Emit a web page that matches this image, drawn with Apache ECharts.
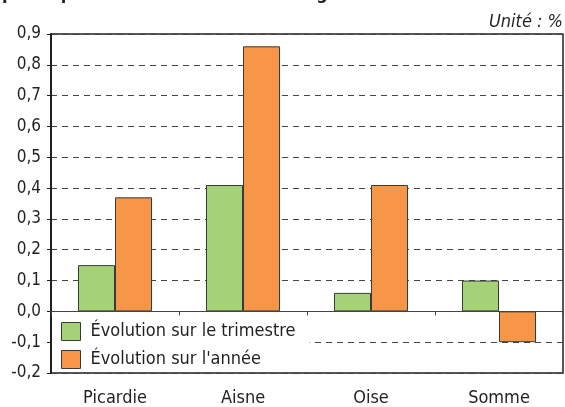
<!DOCTYPE html>
<html>
<head>
<meta charset="utf-8">
<script src="https://cdn.jsdelivr.net/npm/echarts@6/dist/echarts.min.js"></script>
<style>
html,body{margin:0;padding:0;background:#fff;}
#c{width:565px;height:407px;}
</style>
</head>
<body>
<div id="c"></div>
<script>
var categories = ['Picardie', 'Aisne', 'Oise', 'Somme'];
var trimestre = [0.15, 0.41, 0.06, 0.10];
var annee = [0.37, 0.86, 0.41, -0.10];
var seriesNames = ['Évolution sur le trimestre', "Évolution sur l'année"];
var headerText = 'par département en données corrigées des variations saisonnières';
var unitText = 'Unité : %';

var FONT = '"Liberation Sans Narrow", "DejaVu Sans Condensed", "Liberation Sans", sans-serif';
var INK = '#231f20';

var chart = echarts.init(document.getElementById('c'), null, {renderer: 'canvas'});
chart.setOption({
  animation: false,
  textStyle: {fontFamily: FONT, color: INK},
  grid: {left: 51, right: 2, top: 34, bottom: 34, show: true, borderColor: INK, borderWidth: 1.5, backgroundColor: 'transparent'},
  graphic: [
    {type: 'text', left: 2, top: -15, style: {text: headerText, fontFamily: FONT, fontSize: 18, fontWeight: 'bold', fill: INK}},
    {type: 'text', right: 2, top: 13, style: {text: unitText, fontFamily: FONT, fontSize: 18, fontStyle: 'italic', fill: INK}}
  ],
  legend: {
    orient: 'vertical',
    left: 52, top: 313,
    padding: [9, 14, 3, 9],
    itemWidth: 19, itemHeight: 18, itemGap: 9,
    icon: 'rect',
    backgroundColor: '#fff',
    data: seriesNames,
    itemStyle: {borderColor: '#3a3a3a', borderWidth: 1},
    textStyle: {fontFamily: FONT, fontSize: 18, lineHeight: 18, color: INK, padding: [0, 0, 0, 5]}
  },
  xAxis: [
    {
      type: 'category', data: categories, position: 'bottom',
      axisLine: {show: false, onZero: false},
      axisTick: {show: false},
      axisLabel: {fontFamily: FONT, fontSize: 18, color: INK, margin: 16}
    },
    {
      type: 'category', data: categories, position: 'top', z: 5,
      axisLine: {show: true, onZero: true, lineStyle: {color: '#444', width: 1.2}},
      axisTick: {show: true, inside: true, length: 4, lineStyle: {color: '#444'}},
      axisLabel: {show: false}
    }
  ],
  yAxis: {
    type: 'value', min: -0.2, max: 0.9, interval: 0.1,
    axisLine: {show: true, lineStyle: {color: INK, width: 2}},
    axisTick: {show: true, length: 4, lineStyle: {color: INK}},
    axisLabel: {fontFamily: FONT, fontSize: 17, color: INK, margin: 10,
      formatter: function (v) { return v.toFixed(1).replace('.', ','); }},
    splitLine: {show: true, lineStyle: {type: [6, 5], color: '#444', width: 1}}
  },
  series: [
    {name: seriesNames[0], type: 'bar', data: trimestre, barWidth: 37, barGap: '0%',
      itemStyle: {color: '#a5d276', borderColor: '#3a3a3a', borderWidth: 1}},
    {name: seriesNames[1], type: 'bar', data: annee, barWidth: 37, barGap: '0%',
      itemStyle: {color: '#f79646', borderColor: '#3a3a3a', borderWidth: 1}}
  ]
});
</script>
</body>
</html>
